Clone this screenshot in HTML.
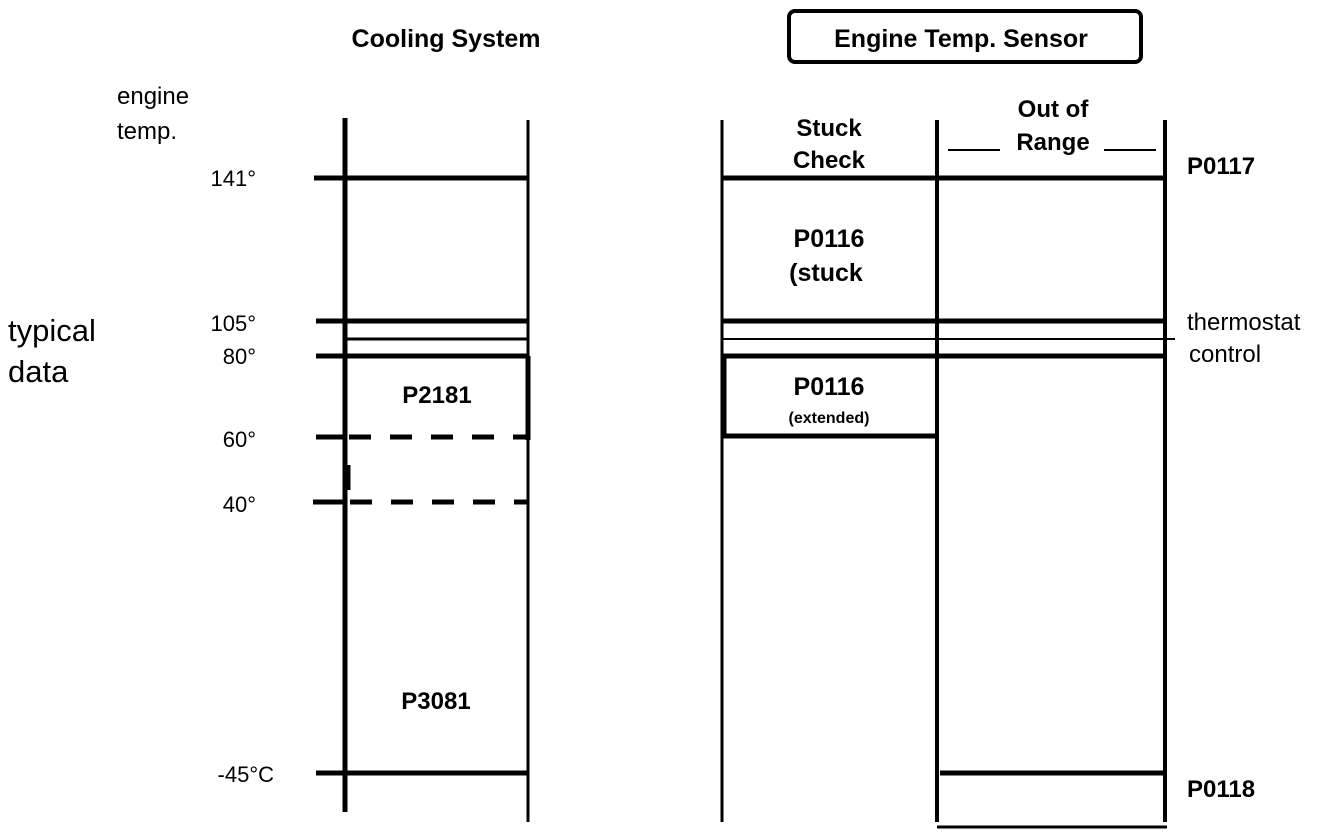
<!DOCTYPE html>
<html><head><style>
html,body{margin:0;padding:0;background:#fff;}
svg{display:block;}
text{font-family:"Liberation Sans",Arial,sans-serif;fill:#000;}
.b{font-weight:bold;}
</style></head><body>
<svg width="1344" height="840" viewBox="0 0 1344 840" xmlns="http://www.w3.org/2000/svg">
<g stroke="#000" fill="none">
<!-- left columns -->
<line x1="345" y1="118" x2="345" y2="812" stroke-width="5"/>
<line x1="528" y1="120" x2="528" y2="822" stroke-width="3"/>
<line x1="314" y1="178" x2="528" y2="178" stroke-width="5"/>
<line x1="316" y1="321" x2="528" y2="321" stroke-width="5"/>
<line x1="345" y1="339" x2="528" y2="339" stroke-width="3"/>
<line x1="316" y1="356" x2="528" y2="356" stroke-width="5"/>
<line x1="528" y1="356" x2="528" y2="440" stroke-width="5"/>
<line x1="316" y1="437" x2="345" y2="437" stroke-width="5"/>
<line x1="349" y1="437" x2="528" y2="437" stroke-width="5" stroke-dasharray="22,19"/>
<line x1="313" y1="502" x2="345" y2="502" stroke-width="5"/>
<line x1="350" y1="502" x2="528" y2="502" stroke-width="5" stroke-dasharray="22,19"/>
<line x1="349" y1="465" x2="349" y2="490" stroke-width="3"/>
<line x1="316" y1="773" x2="528" y2="773" stroke-width="5"/>
<!-- right columns -->
<line x1="722" y1="120" x2="722" y2="822" stroke-width="3"/>
<line x1="937" y1="120" x2="937" y2="822" stroke-width="4"/>
<line x1="1165" y1="120" x2="1165" y2="822" stroke-width="4"/>
<line x1="722" y1="178" x2="1165" y2="178" stroke-width="5"/>
<line x1="722" y1="321" x2="1165" y2="321" stroke-width="5"/>
<line x1="722" y1="339" x2="1175" y2="339" stroke-width="2"/>
<line x1="722" y1="356" x2="1165" y2="356" stroke-width="5"/>
<line x1="724" y1="356" x2="724" y2="437" stroke-width="5"/>
<line x1="722" y1="436" x2="937" y2="436" stroke-width="5"/>
<line x1="940" y1="773" x2="1165" y2="773" stroke-width="5"/>
<line x1="937" y1="827" x2="1167" y2="827" stroke-width="3"/>
<line x1="948" y1="150" x2="1000" y2="150" stroke-width="2"/>
<line x1="1104" y1="150" x2="1156" y2="150" stroke-width="2"/>
<rect x="789" y="11" width="352" height="51" rx="6" stroke-width="4"/>
</g>
<text x="446" y="47" class="b" font-size="25" text-anchor="middle">Cooling System</text>
<text x="961" y="47" class="b" font-size="25" text-anchor="middle">Engine Temp. Sensor</text>
<text x="117" y="104" font-size="24">engine</text>
<text x="117" y="139" font-size="24">temp.</text>
<text x="256" y="186" font-size="22" text-anchor="end">141°</text>
<text x="256" y="331" font-size="22" text-anchor="end">105°</text>
<text x="256" y="364" font-size="22" text-anchor="end">80°</text>
<text x="256" y="447" font-size="22" text-anchor="end">60°</text>
<text x="256" y="512" font-size="22" text-anchor="end">40°</text>
<text x="274" y="782" font-size="22" text-anchor="end">-45°C</text>
<text x="8" y="341" font-size="31">typical</text>
<text x="8" y="382" font-size="31">data</text>
<text x="437" y="403" class="b" font-size="24" text-anchor="middle">P2181</text>
<text x="436" y="709" class="b" font-size="24" text-anchor="middle">P3081</text>
<text x="829" y="136" class="b" font-size="24" text-anchor="middle">Stuck</text>
<text x="829" y="168" class="b" font-size="24" text-anchor="middle">Check</text>
<text x="1053" y="117" class="b" font-size="24" text-anchor="middle">Out of</text>
<text x="1053" y="150" class="b" font-size="24" text-anchor="middle">Range</text>
<text x="1187" y="174" class="b" font-size="24">P0117</text>
<text x="829" y="247" class="b" font-size="25" text-anchor="middle">P0116</text>
<text x="826" y="281" class="b" font-size="25" text-anchor="middle">(stuck</text>
<text x="829" y="395" class="b" font-size="25" text-anchor="middle">P0116</text>
<text x="829" y="423" class="b" font-size="16" text-anchor="middle">(extended)</text>
<text x="1187" y="330" font-size="24">thermostat</text>
<text x="1189" y="362" font-size="24">control</text>
<text x="1187" y="797" class="b" font-size="24">P0118</text>
</svg>
</body></html>
